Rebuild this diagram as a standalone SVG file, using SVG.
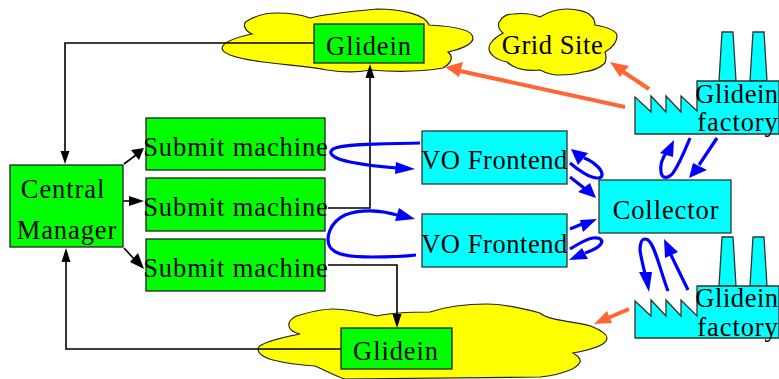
<svg xmlns="http://www.w3.org/2000/svg" width="779" height="379" viewBox="0 0 779 379">
<style>
text{font-family:"Liberation Serif","Times New Roman",serif;font-size:26.5px;letter-spacing:.9px;fill:#000;text-anchor:middle}
.tight{letter-spacing:.55px}
.g{fill:#0f0;stroke:#222;stroke-width:1.3}
.c{fill:#0ff;stroke:#333;stroke-width:1.3}
.y{fill:#ff0;stroke:#222;stroke-width:1.2}
.k{fill:none;stroke:#000;stroke-width:1.6}
.b{fill:none;stroke:#00f;stroke-width:3.2}
.o{fill:none;stroke:#f63;stroke-width:4}
.ka{fill:#000}.ba{fill:#00f}.oa{fill:#f63}
</style>
<g id="cloud-top"><path class="y" d="M222 48C223 42 238 37 252 34C243 30 243 23 247 21C255 16 265 13 277 13C290 13 302 15 310 18C325 14 345 12 377 9C400 9 425 14 429 25C450 26 473 29 473 38C473 45 458 50 448 52C453 56 453 62 443 68C420 72 395 72 370 70C355 73 340 72 327 70C305 66 285 65 263 62C240 59 222 55 222 48Z"/></g>
<g id="cloud-grid-site"><path class="y" d="M489 48C489 42 496 37 503 33C497 28 498 22 500 21C503 16 508 14 513 14C522 13 533 14 540 17C548 12 558 9 567 9C578 9 587 12 590 15C594 18 595 22 595 25C606 27 617 30 617 36C617 44 610 49 605 52C607 57 606 60 605 63C600 68 592 71 583 72C575 75 565 75 558 75C552 75 546 73 540 70C532 71 523 70 517 68C512 66 509 64 507 62C497 60 489 55 489 48Z"/><text class="tight" x="552.500" y="54">Grid Site</text></g>
<g id="cloud-bottom"><path class="y" d="M258 349C258 343 280 338 300 334C292 332 288 328 289 323C291 318 296 316 300 315C310 312 322 309 333 309C350 309 365 313 377 316C395 312 415 312 430 312C445 307 465 304 487 304C505 304 525 309 540 313C550 322 585 322 593 327C600 330 607 334 607 338C607 345 590 350 573 353C578 356 581 359 580 362C578 366 575 368 570 370C560 374 550 376 540 377L345 379C335 376 325 370 315 366C300 365 285 363 273 360C262 357 258 353 258 349Z"/></g>
<g id="connectors">
<path class="k" d="M314 43H65V156"/><path class="ka" d="M65 164L60.500 151H69.500Z"/>
<path class="k" d="M328 208H370V74"/><path class="ka" d="M370 64L365.500 78H374.500Z"/>
<path class="k" d="M328 265H397V320"/><path class="ka" d="M397 328L392.500 314H401.500Z"/>
<path class="k" d="M341 349H66V258"/><path class="ka" d="M66 248L61.500 262H70.500Z"/>
<path class="k" d="M124 164L136 155"/><path class="ka" d="M144 148L139 160L131 150Z"/>
<path class="k" d="M123 201H133"/><path class="ka" d="M144 201L129 196V206Z"/>
<path class="k" d="M124 248L135 260"/><path class="ka" d="M144 269L130 262L138 253Z"/>
<path class="b" d="M420 143C395 144 345 143 333 149C325 155 340 160 350 162C365 165 380 167 397 168"/><path class="ba" d="M415 169L396 162L395 174Z"/>
<path class="b" d="M416 255C400 257 385 257 372 257C350 257 335 255 330 247C325 238 330 222 345 215C360 209 380 210 397 215"/><path class="ba" d="M415 219L399 208L395 221Z"/>
<path class="b" d="M570 163C578 170 590 178 597 178C604 178 603 172 598 167C594 163 590 160 584 158"/><path class="ba" d="M571 149L578 165L588 153Z"/>
<path class="b" d="M570 177L584 188"/><path class="ba" d="M596 198L590 183L578 192Z"/>
<path class="b" d="M570 229L582 224"/><path class="ba" d="M597 219L580 220L583 232Z"/>
<path class="b" d="M570 249C578 244 586 239 593 238C601 237 604 241 600 245C597 249 590 251 585 253"/><path class="ba" d="M569 260L582 248L588 259Z"/>
<path class="b" d="M688 290L671 255"/><path class="ba" d="M664 239L665 258L678 252Z"/>
<path class="b" d="M668 291C660 270 655 245 648 240C641 236 640 245 640 250C641 258 643 265 645 274"/><path class="ba" d="M649 292L639 272L652 272Z"/>
<path class="b" d="M690 138C685 150 680 163 673 173C668 179 662 179 661 172C660 165 662 158 667 152"/>
<path class="ba" d="M674 140L660 153L673 157Z"/>
<path class="b" d="M717 138L699 165"/><path class="ba" d="M689 178L693 163L707 170Z"/>
<path class="o" d="M625 107L460 71"/><path class="oa" d="M445 67L463 62L459 77Z"/>
<path class="o" d="M649 89L622 71"/><path class="oa" d="M610 62L629 66L620 77Z"/>
<path class="o" d="M629 309L608 318"/><path class="oa" d="M594 324L607 311L612 323Z"/>
</g>
<g id="glidein-top"><rect class="g" x="314" y="24" width="110" height="39"/><text x="369" y="55">Glidein</text></g>
<g id="glidein-bottom"><rect class="g" x="341" y="328" width="111" height="41"/><text x="396" y="360">Glidein</text></g>
<g id="central-manager"><rect class="g" x="10" y="165" width="113" height="82"/><text x="63" y="198">Central</text><text x="67" y="239">Manager</text></g>
<g id="submit-1"><rect class="g" x="146" y="118" width="179" height="52"/><text x="236" y="156">Submit machine</text></g>
<g id="submit-2"><rect class="g" x="146" y="178" width="179" height="53"/><text x="236" y="216">Submit machine</text></g>
<g id="submit-3"><rect class="g" x="146" y="239" width="179" height="52"/><text x="236" y="277">Submit machine</text></g>
<g id="vo-1"><rect class="c" x="422" y="131" width="145" height="53"/><text class="tight" x="494.500" y="169">VO Frontend</text></g>
<g id="vo-2"><rect class="c" x="422" y="214" width="145" height="53"/><text class="tight" x="494.500" y="253">VO Frontend</text></g>
<g id="collector"><rect class="c" x="599" y="180" width="132" height="53"/><text x="666" y="219">Collector</text></g>
<g id="factory-top"><path class="c" d="M719 81L722 32H733L736 81ZM750 81L753 32H764L767 81Z"/><path class="c" d="M635 134V97L651 112V96L666 112V96L681 112V96L697 111V81H779V134Z"/><text class="tight" x="737" y="103">Glidein</text><text x="738" y="131">factory</text></g>
<g id="factory-bottom"><path class="c" d="M719 286L722 237H733L736 286ZM750 286L753 237H764L767 286Z"/><path class="c" d="M635 338V301L651 316V300L666 316V300L681 316V300L697 316V286H779V338Z"/><text class="tight" x="737" y="307">Glidein</text><text x="738" y="336">factory</text></g>
</svg>
